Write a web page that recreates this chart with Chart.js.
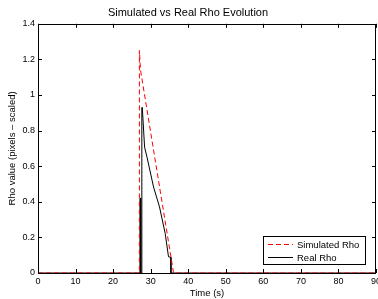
<!DOCTYPE html>
<html>
<head>
<meta charset="utf-8">
<script src="https://cdn.jsdelivr.net/npm/chart.js@4.4.1/dist/chart.umd.min.js"></script>
<style>
html,body{margin:0;padding:0;background:#fff;}
canvas{display:block;}
</style>
</head>
<body>
<canvas id="c" width="378" height="299"></canvas>
<script>
// Data
const simTime = [0, 27.0, 27.0, 27.3, 36.1, 90];
const simRho  = [0, 0,    1.25, 1.14, 0,    0];

const realTime = [0, 27.1, 27.15, 27.3, 27.35, 27.6, 27.65, 27.77, 28.38, 29.02, 30.77, 32.36, 33.87, 34.75, 35.38, 35.4, 90];
const realRho  = [0, 0,    0.42,  0.42, 0,     0,    0.93,  0.93,  0.707, 0.651, 0.483, 0.371, 0.222, 0.091, 0.088, 0,    0];

const xTicks = [0, 10, 20, 30, 40, 50, 60, 70, 80, 90];
const yTicks = [0, 0.2, 0.4, 0.6, 0.8, 1, 1.2, 1.4];
const xTickLabels = ['0','10','20','30','40','50','60','70','80','90'];
const yTickLabels = ['0','0.2','0.4','0.6','0.8','1','1.2','1.4'];

const FONT = "'Liberation Sans', Arial, Helvetica, sans-serif";

function pts(xs, ys){ return xs.map((x,i)=>({x:x, y:ys[i]})); }

const frame = {
  id: 'frame',
  afterDatasetsDraw(chart){
    const ctx = chart.ctx, a = chart.chartArea;
    const xs = chart.scales.x, ys = chart.scales.y;
    ctx.save();
    ctx.strokeStyle = '#000';
    ctx.lineWidth = 1;
    ctx.beginPath();
    const T = 4;
    xTicks.forEach(v=>{
      const p = Math.round(xs.getPixelForValue(v)) + 0.5;
      ctx.moveTo(p, a.bottom); ctx.lineTo(p, a.bottom - T);
      ctx.moveTo(p, a.top); ctx.lineTo(p, a.top + T);
    });
    yTicks.forEach(v=>{
      const p = Math.round(ys.getPixelForValue(v)) + 0.5;
      ctx.moveTo(a.left, p); ctx.lineTo(a.left + T, p);
      ctx.moveTo(a.right, p); ctx.lineTo(a.right - T, p);
    });
    ctx.stroke();
    ctx.strokeRect(Math.round(a.left)+0.5, Math.round(a.top)+0.5, Math.round(a.right - a.left) - 1, Math.round(a.bottom - a.top));
    // legend
    const bx = 263.5, by = 236.5, bw = 102, bh = 28;
    ctx.fillStyle = '#fff';
    ctx.fillRect(bx, by, bw, bh);
    ctx.strokeRect(bx, by, bw, bh);
    const ds = chart.data.datasets;
    const rows = [244.5, 257.5];
    ctx.font = "9.5px " + FONT;
    ctx.textBaseline = 'middle';
    ctx.textAlign = 'left';
    ds.forEach((d, i)=>{
      ctx.beginPath();
      ctx.strokeStyle = d.borderColor;
      ctx.lineWidth = d.borderWidth;
      ctx.setLineDash(d.borderDash || []);
      ctx.moveTo(268, rows[i]); ctx.lineTo(293, rows[i]);
      ctx.stroke();
      ctx.setLineDash([]);
      ctx.fillStyle = '#000';
      ctx.fillText(d.label, 297, rows[i] + 0.5);
    });
    ctx.restore();
  }
};

new Chart(document.getElementById('c'), {
  type: 'line',
  data: {
    datasets: [
      {
        label: 'Simulated Rho',
        data: pts(simTime, simRho),
        borderColor: 'rgb(255,0,0)',
        borderWidth: 1,
        borderDash: [5, 3],
        pointRadius: 0,
        fill: false,
        tension: 0
      },
      {
        label: 'Real Rho',
        data: pts(realTime, realRho),
        borderColor: '#000',
        borderWidth: 1,
        pointRadius: 0,
        fill: false,
        tension: 0
      }
    ]
  },
  options: {
    responsive: false,
    animation: false,
    events: [],
    layout: { padding: { left: 0, right: 2, top: 0, bottom: 0 } },
    plugins: {
      legend: { display: false },
      tooltip: { enabled: false },
      title: {
        display: true,
        text: 'Simulated vs Real Rho Evolution',
        color: '#000',
        font: { family: FONT, size: 11, weight: 'normal' },
        padding: { top: 6, bottom: 4.6 }
      }
    },
    scales: {
      x: {
        type: 'linear',
        min: 0, max: 90,
        grid: { display: false, drawTicks: false },
        border: { display: false },
        afterBuildTicks(s){ s.ticks = xTicks.map(v=>({value:v})); },
        afterFit(s){ s.height = 26; s.paddingLeft = 0; s.paddingRight = 0; },
        ticks: {
          color: '#000',
          padding: 3,
          maxRotation: 0,
          autoSkip: false,
          font: { family: FONT, size: 9 },
          callback(v){ const i = xTicks.indexOf(v); return i >= 0 ? xTickLabels[i] : ''; }
        },
        title: {
          display: true,
          text: 'Time (s)',
          color: '#000',
          font: { family: FONT, size: 9.5 },
          padding: { top: 0, bottom: 0 }
        }
      },
      y: {
        type: 'linear',
        min: 0, max: 1.4,
        grid: { display: false, drawTicks: false },
        border: { display: false },
        afterBuildTicks(s){ s.ticks = yTicks.map(v=>({value:v})); },
        afterFit(s){ s.width = 38; s.paddingTop = 0; s.paddingBottom = 0; },
        ticks: {
          color: '#000',
          padding: 3,
          autoSkip: false,
          font: { family: FONT, size: 9 },
          callback(v){ const i = yTicks.indexOf(v); return i >= 0 ? yTickLabels[i] : ''; }
        },
        title: {
          display: true,
          text: 'Rho value (pixels \u2013 scaled)',
          color: '#000',
          font: { family: FONT, size: 9.5 },
          padding: { top: 7, bottom: 0 }
        }
      }
    }
  },
  plugins: [frame]
});
</script>
</body>
</html>
